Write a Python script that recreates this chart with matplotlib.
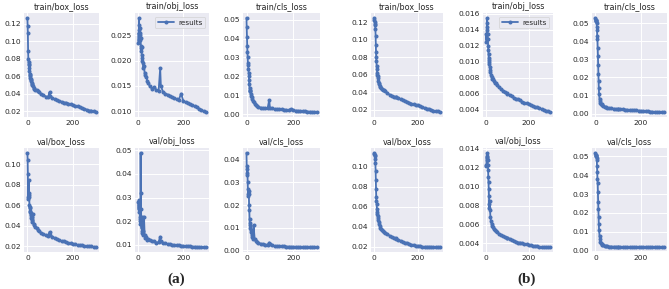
import matplotlib
matplotlib.use("Agg")
import matplotlib.pyplot as plt
from matplotlib.ticker import MultipleLocator
import seaborn as sns

sns.set_style("darkgrid")
plt.rcParams['font.family'] = ['DejaVu Sans']

epochs = [0, 1, 2, 3, 4, 5, 6, 7, 8, 9, 10, 11, 12, 13, 14, 15, 16, 18, 20, 22, 25, 28, 30,
          35, 40, 45, 50, 60, 70, 80, 90, 97, 100, 110, 120, 130, 140, 150, 160, 170, 180,
          190, 200, 210, 220, 230, 240, 250, 260, 270, 280, 290, 299]

titles = ["train/box_loss", "train/obj_loss", "train/cls_loss",
          "val/box_loss", "val/obj_loss", "val/cls_loss"]

a_train_box = [0.127, 0.117, 0.109, 0.089, 0.080, 0.076, 0.073, 0.074, 0.070, 0.066, 0.063, 0.062, 0.060,
               0.058, 0.057, 0.056, 0.055, 0.053, 0.051, 0.050, 0.049, 0.047, 0.046, 0.045, 0.044, 0.043,
               0.042, 0.040, 0.039, 0.037, 0.036, 0.042, 0.038, 0.035, 0.034, 0.033, 0.032, 0.031, 0.030,
               0.030, 0.029, 0.028, 0.027, 0.026, 0.026, 0.025, 0.024, 0.023, 0.022, 0.021, 0.021, 0.020, 0.019]
a_train_obj = [0.0235, 0.0255, 0.0240, 0.0285, 0.0260, 0.0270, 0.0255, 0.0265, 0.0250, 0.0240, 0.0245,
               0.0230, 0.0225, 0.0220, 0.0228, 0.0212, 0.0205, 0.0200, 0.0195, 0.0185, 0.0190, 0.0175,
               0.0172, 0.0168, 0.0160, 0.0155, 0.0150, 0.0145, 0.0148, 0.0142, 0.0140, 0.0185, 0.0150,
               0.0138, 0.0135, 0.0133, 0.0130, 0.0128, 0.0126, 0.0124, 0.0123, 0.0135, 0.0120, 0.0118,
               0.0116, 0.0114, 0.0112, 0.0110, 0.0108, 0.0105, 0.0103, 0.0100, 0.0098]
a_train_cls = [0.051, 0.046, 0.041, 0.036, 0.033, 0.030, 0.027, 0.026, 0.024, 0.022, 0.020, 0.018, 0.016,
               0.014, 0.013, 0.0125, 0.012, 0.0105, 0.0095, 0.009, 0.008, 0.007, 0.0065, 0.0055, 0.0048,
               0.0042, 0.004, 0.0035, 0.0033, 0.0032, 0.003, 0.0075, 0.0035, 0.003, 0.0028, 0.0027, 0.0026,
               0.0025, 0.0024, 0.0023, 0.0022, 0.0028, 0.002, 0.0019, 0.0018, 0.0017, 0.0016, 0.0015,
               0.0014, 0.0013, 0.0012, 0.0011, 0.001]
a_val_box = [0.111, 0.104, 0.090, 0.068, 0.066, 0.070, 0.084, 0.072, 0.068, 0.060, 0.057, 0.058, 0.053,
             0.054, 0.050, 0.047, 0.052, 0.048, 0.046, 0.044, 0.051, 0.042, 0.041, 0.039, 0.038, 0.036,
             0.035, 0.033, 0.032, 0.031, 0.030, 0.034, 0.031, 0.029, 0.028, 0.027, 0.026, 0.025, 0.025,
             0.024, 0.023, 0.023, 0.022, 0.022, 0.021, 0.021, 0.021, 0.020, 0.020, 0.020, 0.020, 0.019, 0.019]
a_val_obj = [0.028, 0.025, 0.029, 0.027, 0.024, 0.026, 0.022, 0.020, 0.019, 0.021, 0.049, 0.032, 0.025,
             0.019, 0.017, 0.022, 0.016, 0.015, 0.014, 0.016, 0.022, 0.014, 0.013, 0.0135, 0.012, 0.0125,
             0.012, 0.0118, 0.0115, 0.011, 0.0112, 0.0135, 0.0115, 0.0108, 0.0106, 0.0104, 0.0102, 0.0101,
             0.0100, 0.0099, 0.0098, 0.0097, 0.0096, 0.0095, 0.0094, 0.0094, 0.0093, 0.0093, 0.0092,
             0.0092, 0.0091, 0.0091, 0.0090]
a_val_cls = [0.043, 0.037, 0.034, 0.033, 0.036, 0.030, 0.027, 0.025, 0.024, 0.026, 0.025, 0.020, 0.018,
             0.014, 0.012, 0.011, 0.010, 0.009, 0.008, 0.007, 0.006, 0.005, 0.011, 0.005, 0.004, 0.0038,
             0.0035, 0.003, 0.0028, 0.0026, 0.0025, 0.0035, 0.0027, 0.0022, 0.002, 0.002, 0.0019, 0.0018,
             0.0018, 0.0017, 0.0017, 0.0016, 0.0016, 0.0016, 0.0015, 0.0015, 0.0015, 0.0015, 0.0014,
             0.0014, 0.0014, 0.0014, 0.0014]

b_train_box = [0.125, 0.122, 0.120, 0.118, 0.117, 0.112, 0.104, 0.094, 0.086, 0.080, 0.075, 0.070, 0.066,
               0.062, 0.060, 0.058, 0.056, 0.053, 0.051, 0.049, 0.047, 0.046, 0.045, 0.044, 0.043, 0.042,
               0.041, 0.039, 0.037, 0.036, 0.035, 0.034, 0.034, 0.033, 0.032, 0.031, 0.030, 0.029, 0.028,
               0.027, 0.026, 0.025, 0.025, 0.024, 0.023, 0.022, 0.021, 0.021, 0.020, 0.019, 0.018, 0.018, 0.017]
b_train_obj = [0.0125, 0.0135, 0.0128, 0.0140, 0.0155, 0.0148, 0.0143, 0.0135, 0.0128, 0.0120, 0.0115,
               0.0110, 0.0105, 0.0102, 0.0100, 0.0097, 0.0094, 0.0090, 0.0087, 0.0084, 0.0081, 0.0079,
               0.0078, 0.0076, 0.0074, 0.0073, 0.0071, 0.0068, 0.0066, 0.0064, 0.0062, 0.0061, 0.0060,
               0.0058, 0.0057, 0.0055, 0.0054, 0.0053, 0.0052, 0.0050, 0.0049, 0.0048, 0.0047, 0.0046,
               0.0045, 0.0044, 0.0043, 0.0042, 0.0041, 0.0040, 0.0039, 0.0038, 0.0037]
b_train_cls = [0.053, 0.052, 0.052, 0.051, 0.051, 0.050, 0.048, 0.046, 0.043, 0.041, 0.036, 0.032, 0.027,
               0.022, 0.018, 0.014, 0.011, 0.008, 0.007, 0.006, 0.0055, 0.005, 0.0047, 0.0042, 0.0038,
               0.0035, 0.0033, 0.003, 0.0028, 0.0027, 0.0026, 0.0025, 0.0025, 0.0024, 0.0023, 0.0022,
               0.0021, 0.002, 0.0019, 0.0018, 0.0017, 0.0016, 0.0015, 0.0014, 0.0013, 0.0012, 0.0011,
               0.001, 0.0009, 0.0009, 0.0008, 0.0008, 0.0007]
b_val_box = [0.114, 0.113, 0.112, 0.111, 0.108, 0.104, 0.096, 0.087, 0.078, 0.070, 0.066, 0.063, 0.058,
             0.055, 0.053, 0.051, 0.049, 0.047, 0.045, 0.043, 0.041, 0.039, 0.038, 0.037, 0.036, 0.035,
             0.034, 0.033, 0.031, 0.030, 0.029, 0.029, 0.028, 0.027, 0.026, 0.025, 0.024, 0.024, 0.023,
             0.022, 0.022, 0.021, 0.021, 0.021, 0.020, 0.020, 0.020, 0.020, 0.020, 0.0195, 0.0195, 0.0195, 0.0195]
b_val_obj = [0.0123, 0.0122, 0.0128, 0.0132, 0.0136, 0.0133, 0.0130, 0.0128, 0.0123, 0.0118, 0.0110,
             0.0105, 0.0098, 0.0090, 0.0082, 0.0078, 0.0085, 0.0075, 0.0068, 0.0064, 0.0061, 0.0058,
             0.0057, 0.0055, 0.0054, 0.0053, 0.0052, 0.0050, 0.0049, 0.0048, 0.0047, 0.0046, 0.0046,
             0.0045, 0.0044, 0.0043, 0.0042, 0.0041, 0.0041, 0.0040, 0.0039, 0.0039, 0.0038, 0.0038,
             0.0037, 0.0037, 0.0037, 0.0036, 0.0036, 0.0036, 0.0036, 0.0036, 0.0036]
b_val_cls = [0.052, 0.051, 0.051, 0.050, 0.050, 0.049, 0.048, 0.045, 0.042, 0.038, 0.036, 0.031, 0.026,
             0.022, 0.018, 0.014, 0.011, 0.008, 0.006, 0.0048, 0.004, 0.0035, 0.003, 0.0028, 0.0025,
             0.0024, 0.0023, 0.0022, 0.0022, 0.0021, 0.0021, 0.002, 0.002, 0.002, 0.002, 0.002, 0.002,
             0.002, 0.0019, 0.0019, 0.0019, 0.0019, 0.0019, 0.0019, 0.0018, 0.0018, 0.0018, 0.0018,
             0.0018, 0.0018, 0.0018, 0.0018, 0.0018]

group_a = [a_train_box, a_train_obj, a_train_cls, a_val_box, a_val_obj, a_val_cls]
group_b = [b_train_box, b_train_obj, b_train_cls, b_val_box, b_val_obj, b_val_cls]
group_labels = ["(a)", "(b)"]

# y tick steps per panel (a then b)
ystep_a = [0.02, 0.005, 0.01, 0.02, 0.01, 0.01]
ystep_b = [0.02, 0.002, 0.01, 0.02, 0.002, 0.01]

W, H = 669, 289
fig = plt.figure(figsize=(W / 100, H / 100), dpi=100)

col_px = [[(24, 99), (135, 209), (243, 320)], [(371, 443), (483, 553), (592, 667)]]
row_px = [(13, 117), (148, 252)]
color = "#4a72b5"

for g, (data, cols, steps) in enumerate(zip([group_a, group_b], col_px, [ystep_a, ystep_b])):
    for i, series in enumerate(data):
        r, c = divmod(i, 3)
        x0, x1 = cols[c]
        y0, y1 = row_px[r]
        ax = fig.add_axes([x0 / W, 1 - y1 / H, (x1 - x0) / W, (y1 - y0) / H])
        ax.plot(epochs, series, marker='.', markersize=3.8, linewidth=1.3,
                color=color, label="results")
        ax.set_title(titles[i], fontsize=5.8, pad=3, color="#262626")
        ax.set_xticks([0, 200])
        ax.yaxis.set_major_locator(MultipleLocator(steps[i]))
        ax.tick_params(labelsize=5.4, pad=2, colors="#262626", length=0)
        for s in ax.spines.values():
            s.set_visible(False)
        ax.grid(color="white", linewidth=0.7)
        if i == 1:
            leg = ax.legend(loc="upper right", fontsize=5.2, frameon=True,
                            handlelength=2.2, borderpad=0.4, handletextpad=0.6)
            leg.get_frame().set_edgecolor("#cccccc")
            leg.get_frame().set_linewidth(0.5)

fig.text(176 / W, 1 - 279 / H, group_labels[0], ha="center", va="center",
         fontsize=11, fontweight="bold", family="Liberation Serif")
fig.text(527 / W, 1 - 279 / H, group_labels[1], ha="center", va="center",
         fontsize=11, fontweight="bold", family="Liberation Serif")

fig.savefig("out.png", dpi=100, facecolor="white")
